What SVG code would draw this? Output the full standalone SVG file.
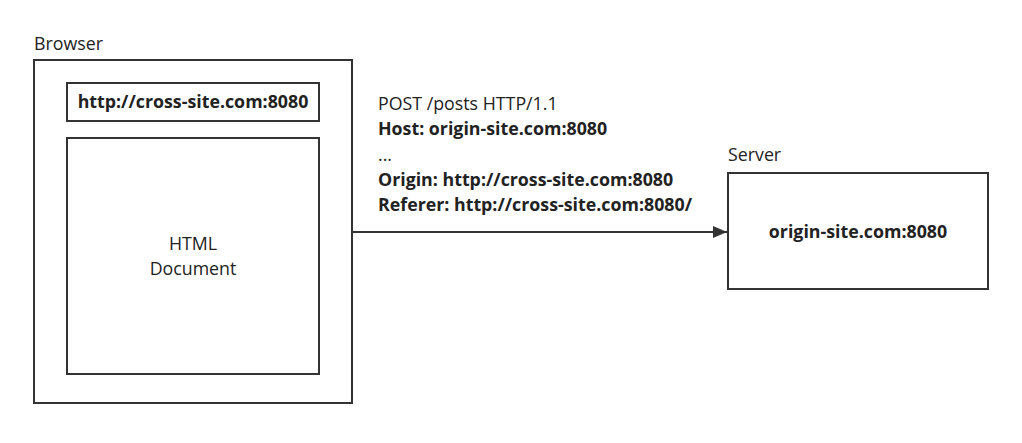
<svg xmlns="http://www.w3.org/2000/svg" width="1022" height="443" viewBox="0 0 1022 443">
<style>
.box{fill:#fff;stroke:#333;stroke-width:2}
.t{font-family:"Open Sans","Liberation Sans",sans-serif;font-size:17.8px;fill:#222}
.b{font-weight:bold}
.c{text-anchor:middle}
.edge{stroke:#333;stroke-width:2;fill:none}
</style>
<defs>
<marker id="arr" markerWidth="14" markerHeight="12" refX="14" refY="6" orient="auto" markerUnits="userSpaceOnUse">
<path d="M0,0 L14,6 L0,12 Z" fill="#333"/>
</marker>
</defs>
<rect width="1022" height="443" fill="#fff"/>
<g id="browser">
<text class="t" x="34" y="50">Browser</text>
<rect class="box" x="34" y="60" width="318" height="343"/>
</g>
<g id="url">
<rect class="box" x="67" y="83" width="252" height="38"/>
<text class="t b c" x="193" y="108">http://cross-site.com:8080</text>
</g>
<g id="document">
<rect class="box" x="67" y="138" width="252" height="236"/>
<text class="t c" x="193" y="250">HTML</text>
<text class="t c" x="193" y="275">Document</text>
</g>
<g id="server">
<text class="t" x="728" y="161">Server</text>
<rect class="box" x="728" y="173" width="260" height="116"/>
<text class="t b c" x="858" y="238">origin-site.com:8080</text>
</g>
<g id="connectors">
<line class="edge" x1="352" y1="232" x2="727" y2="232" marker-end="url(#arr)"/>
<text class="t" x="378" y="110">POST /posts HTTP/1.1</text>
<text class="t b" x="378" y="135">Host: origin-site.com:8080</text>
<text class="t" x="378" y="161">...</text>
<text class="t b" x="378" y="186">Origin: http://cross-site.com:8080</text>
<text class="t b" x="378" y="211">Referer: http://cross-site.com:8080/</text>
</g>
</svg>
